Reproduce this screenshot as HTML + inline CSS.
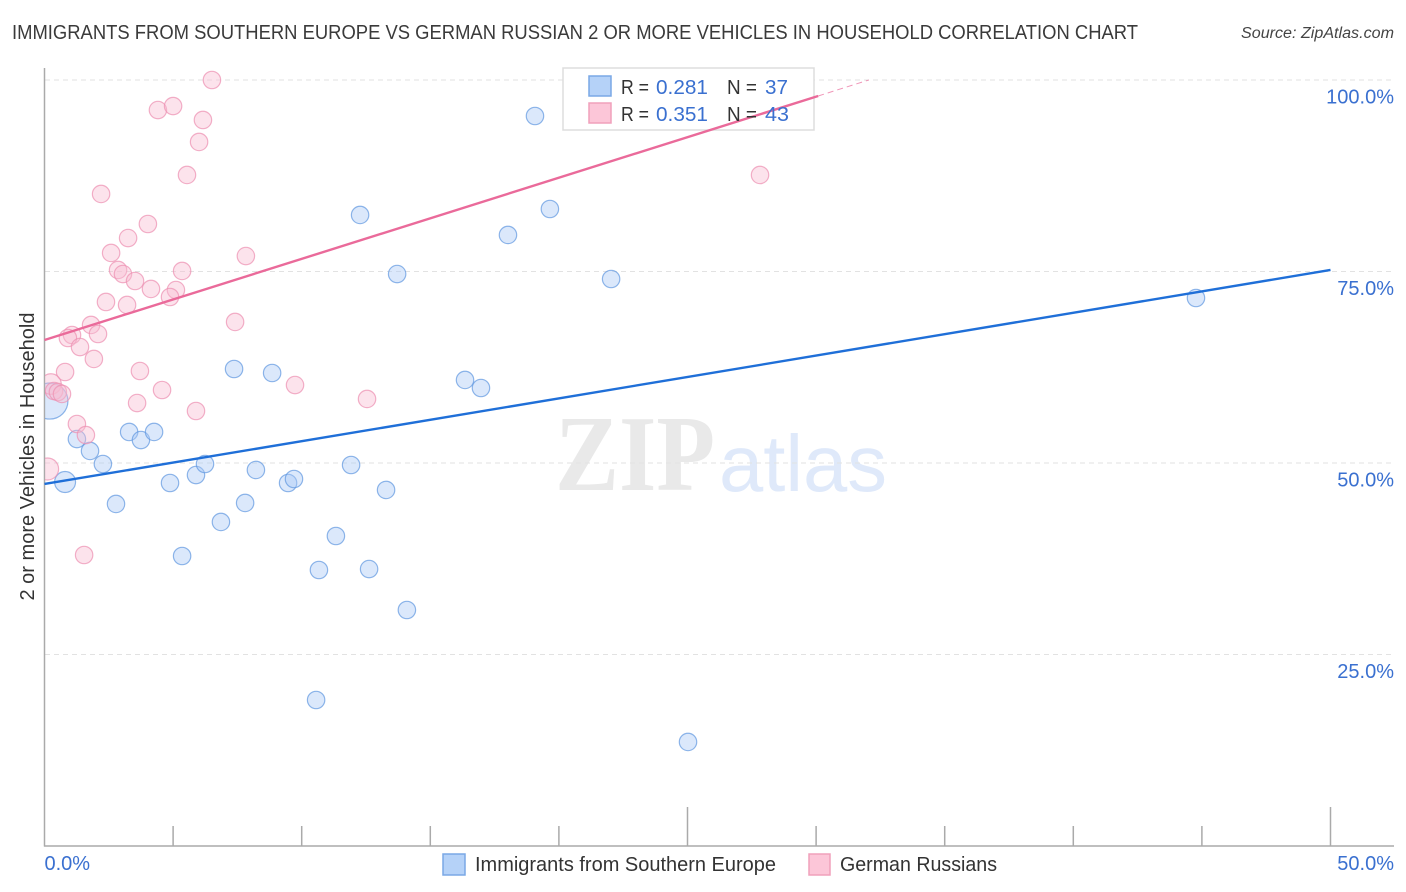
<!DOCTYPE html>
<html lang="en">
<head>
<meta charset="utf-8">
<title>Immigrants from Southern Europe vs German Russian 2 or more Vehicles in Household Correlation Chart</title>
<style>
html,body{margin:0;padding:0;background:#fff;width:1406px;height:892px;overflow:hidden}
svg{display:block;font-family:"Liberation Sans",sans-serif}
</style>
</head>
<body>
<svg id="chart" xmlns="http://www.w3.org/2000/svg" width="1406" height="892" viewBox="0 0 1406 892">
  <defs><clipPath id="plot-clip"><rect x="45" y="68" width="1349" height="778"/></clipPath></defs>
  <rect x="0" y="0" width="1406" height="892" fill="#ffffff"/>
  <text x="12" y="39" font-size="20" fill="#3a3a3a" textLength="1126" lengthAdjust="spacingAndGlyphs">IMMIGRANTS FROM SOUTHERN EUROPE VS GERMAN RUSSIAN 2 OR MORE VEHICLES IN HOUSEHOLD CORRELATION CHART</text>
  <text x="1394" y="38" font-size="15.5" font-style="italic" fill="#444444" text-anchor="end" textLength="153" lengthAdjust="spacingAndGlyphs">Source: ZipAtlas.com</text>
  <text x="555" y="490" font-family="'Liberation Serif',serif" font-size="108" font-weight="bold" fill="#e9e9e9" textLength="160" lengthAdjust="spacingAndGlyphs">ZIP</text>
  <text x="719" y="491" font-size="80" fill="#dfe9fa" textLength="168" lengthAdjust="spacingAndGlyphs">atlas</text>
  <g id="grid"></g>
  <g id="axes"></g>
  <rect x="563" y="68" width="251" height="62" fill="#ffffff" stroke="#dddddd" stroke-width="1.5"/>
  <g id="marks" clip-path="url(#plot-clip)"></g>
  <g id="lines"></g>
  <g font-size="20">
    <rect x="589" y="76" width="22" height="20" fill="#b5d2f8" stroke="#7aa8e6" stroke-width="1.5"/>
    <rect x="589" y="103" width="22" height="20" fill="#fcc6d8" stroke="#f0a0bb" stroke-width="1.5"/>
    <text x="621" y="94" fill="#333333" textLength="28" lengthAdjust="spacingAndGlyphs">R =</text>
    <text x="656" y="94" fill="#3a70d0" textLength="52" lengthAdjust="spacingAndGlyphs">0.281</text>
    <text x="727" y="94" fill="#333333" textLength="30" lengthAdjust="spacingAndGlyphs">N =</text>
    <text x="765" y="94" fill="#3a70d0" textLength="23" lengthAdjust="spacingAndGlyphs">37</text>
    <text x="621" y="121" fill="#333333" textLength="28" lengthAdjust="spacingAndGlyphs">R =</text>
    <text x="656" y="121" fill="#3a70d0" textLength="52" lengthAdjust="spacingAndGlyphs">0.351</text>
    <text x="727" y="121" fill="#333333" textLength="30" lengthAdjust="spacingAndGlyphs">N =</text>
    <text x="765" y="121" fill="#3a70d0" textLength="24" lengthAdjust="spacingAndGlyphs">43</text>
  </g>
  <text transform="translate(34 456.5) rotate(-90)" font-size="20" fill="#333333" text-anchor="middle" textLength="288" lengthAdjust="spacingAndGlyphs">2 or more Vehicles in Household</text>
  <g font-size="20" fill="#333333">
    <rect x="443" y="854" width="22" height="21" fill="#b5d2f8" stroke="#7aa8e6" stroke-width="1.5"/>
    <text x="475" y="871" textLength="301" lengthAdjust="spacingAndGlyphs">Immigrants from Southern Europe</text>
    <rect x="809" y="854" width="21" height="21" fill="#fcc6d8" stroke="#f0a0bb" stroke-width="1.5"/>
    <text x="840" y="871" textLength="157" lengthAdjust="spacingAndGlyphs">German Russians</text>
  </g>
</svg>
<script>
const xTickValues = [0, 5, 10, 15, 20, 25, 30, 35, 40, 45, 50];
const xLongTicks = [25, 50];
const xTickLabels = ["0.0%", "50.0%"];
const xTickLabelValues = [0, 50];
const yGridValues = [25, 50, 75, 100];
const yTickLabels = ["25.0%", "50.0%", "75.0%", "100.0%"];

const immigrantsX = [19.07,19.65,18.02,12.27,13.71,22.03,44.77,7.37,8.85,16.35,16.97,0.21,1.26,1.77,3.29,3.75,4.26,2.27,0.80,4.88,5.89,6.24,8.22,9.47,9.70,11.92,13.28,2.78,7.80,6.86,11.33,5.35,10.67,12.62,14.09,10.56,25.02];
const immigrantsY = [95.30,83.16,79.77,82.38,74.67,74.02,71.54,62.27,61.75,60.84,59.79,58.09,53.13,51.57,54.05,53.00,54.05,49.87,47.52,47.39,48.43,49.87,49.09,47.39,47.91,49.74,46.48,44.65,44.78,42.30,40.47,37.86,36.03,36.16,30.81,19.06,13.58];
const immigrantsWeight = [1,1,1,1,1,1,1,1,1,1,1,4.3,1,1,1,1,1,1,1.45,1,1,1,1,1,1,1,1,1,1,1,1,1,1,1,1,1,1];

const germanX = [6.51,4.41,5.00,6.16,6.01,5.54,27.82,2.20,4.02,3.25,2.59,7.83,2.86,3.05,5.35,3.52,4.14,5.11,4.88,2.39,3.21,7.41,1.81,2.08,1.07,0.91,1.38,1.92,0.80,3.71,9.74,4.57,12.54,3.60,5.89,0.25,0.37,0.52,0.68,1.26,1.61,0.12,1.54];
const germanY = [100,96.08,96.60,94.78,91.91,87.60,87.60,85.12,81.20,79.37,77.42,77.02,75.20,74.67,75.07,73.76,72.72,72.58,71.67,71.02,70.63,68.41,68.02,66.84,66.71,66.32,65.14,63.58,61.88,62.01,60.18,59.53,58.36,57.83,56.79,60.31,59.40,59.27,59.01,55.09,53.65,49.22,37.99];
const germanWeight = [1,1,1,1,1,1,1,1,1,1,1,1,1,1,1,1,1,1,1,1,1,1,1,1,1,1,1,1,1,1,1,1,1,1,1,1.4,1,1,1,1,1,1.6,1];

const immigrantsTrend = [47.26, 75.2];
const germanTrend = [66.06, 1.059];
const germanSolidEndX = 30.08;
const germanDashEndY = 100;

const NS = "http://www.w3.org/2000/svg";
function xScale(v) { return 44.5 + v * 25.72; }
function yScale(v) { return 846 - v * 7.66; }
function rScale(w) { return 8.7 * Math.sqrt(w); }
function make(tag, parent, props) {
  const el = document.createElementNS(NS, tag);
  for (const k in props) el.setAttribute(k, props[k]);
  document.getElementById(parent).appendChild(el);
  return el;
}

yGridValues.forEach(function (v, i) {
  const line = make("line", "grid", { x1: 45, x2: 1394, y1: yScale(v), y2: yScale(v), stroke: "#e2e2e2", "stroke-width": 1, "stroke-dasharray": "5 4" });
  
  
  const label = make("text", "axes", { x: 1394, y: yScale(v) + 23.5, "font-size": 20, fill: "#3a70d0", "text-anchor": "end" });
  label.textContent = yTickLabels[i];
  
  
});

const yAxisLine = make("line", "axes", { x1: 44.5, x2: 44.5, y1: 68, y2: 846.5, stroke: "#aaaaaa", "stroke-width": 1.5 });


const xAxisLine = make("line", "axes", { x1: 44, x2: 1394, y1: 846, y2: 846, stroke: "#aaaaaa", "stroke-width": 1.5 });



xTickValues.slice(1).forEach(function (v) {
  const top = xLongTicks.indexOf(v) >= 0 ? 807 : 826;
  const tick = make("line", "axes", { x1: xScale(v), x2: xScale(v), y1: top, y2: 846, stroke: "#aaaaaa", "stroke-width": 1.5 });
  
  
});

xTickLabelValues.forEach(function (v, i) {
  const label = make("text", "axes", { x: i === 0 ? xScale(v) : 1394, y: 870, "font-size": 20, fill: "#3a70d0", "text-anchor": i === 0 ? "start" : "end" });
  label.textContent = xTickLabels[i];
  
  
});

immigrantsX.forEach(function (x, i) {
  const c = make("circle", "marks", { cx: xScale(x), cy: yScale(immigrantsY[i]), r: rScale(immigrantsWeight[i]), fill: "#a9c9f5", "fill-opacity": 0.42, stroke: "#5f97e0", "stroke-opacity": 0.7, "stroke-width": 1.2 });
  
  
});

germanX.forEach(function (x, i) {
  const c = make("circle", "marks", { cx: xScale(x), cy: yScale(germanY[i]), r: rScale(germanWeight[i]), fill: "#f9bdd2", "fill-opacity": 0.42, stroke: "#ec8fb0", "stroke-opacity": 0.7, "stroke-width": 1.2 });
  
  
});

const blueLine = make("line", "lines", { x1: xScale(0), y1: yScale(immigrantsTrend[0]), x2: xScale(50), y2: yScale(immigrantsTrend[1]), stroke: "#1f6fd8", "stroke-width": 2.4 });



function germanAt(x) { return germanTrend[0] + germanTrend[1] * x; }
const germanDashEndX = (germanDashEndY - germanTrend[0]) / germanTrend[1];
const pinkLine = make("line", "lines", { x1: xScale(0), y1: yScale(germanAt(0)), x2: xScale(germanSolidEndX), y2: yScale(germanAt(germanSolidEndX)), stroke: "#ea6a9a", "stroke-width": 2.4 });


const pinkDash = make("line", "lines", { x1: xScale(germanSolidEndX), y1: yScale(germanAt(germanSolidEndX)), x2: xScale(germanDashEndX), y2: yScale(germanAt(germanDashEndX)), stroke: "#ea6a9a", "stroke-width": 1, "stroke-dasharray": "6 4", "stroke-opacity": 0.7 });


</script>
</body>
</html>
